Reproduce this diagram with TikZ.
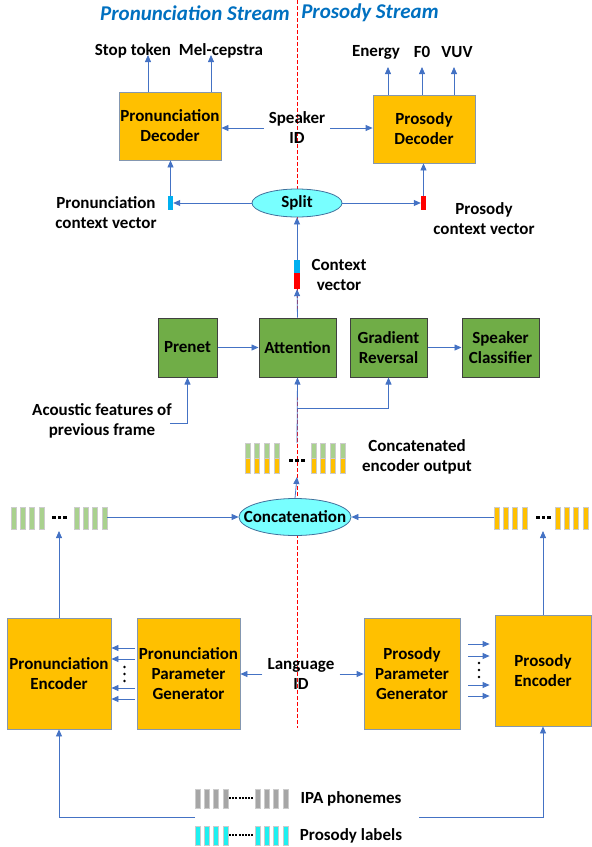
\documentclass[tikz,border=0pt]{standalone}
\usepackage{fontspec}
\setmainfont{Carlito}
\usetikzlibrary{shapes.geometric,arrows.meta}
\definecolor{linkblue}{RGB}{68,114,196}
\definecolor{titleblue}{RGB}{0,112,192}
\definecolor{boxorange}{RGB}{255,192,0}
\definecolor{boxedge}{RGB}{132,151,176}
\definecolor{boxgreen}{RGB}{112,173,71}
\definecolor{ovalcyan}{RGB}{120,255,255}
\definecolor{ovaledge}{RGB}{65,113,156}
\definecolor{vecblue}{RGB}{0,176,240}
\definecolor{bargreen}{RGB}{169,209,142}
\definecolor{bargray}{RGB}{166,166,166}
\definecolor{barcyan}{RGB}{30,240,240}
\begin{document}
\begin{tikzpicture}[x=1pt,y=-1pt,
  every node/.style={font=\fontsize{17}{20}\selectfont\bfseries,align=center,inner sep=0pt},
  obox/.style={draw=boxedge,fill=boxorange,line width=0.8pt},
  gbox/.style={draw=black!75,fill=boxgreen,line width=1pt},
  oval/.style={ellipse,draw=ovaledge,fill=ovalcyan,line width=0.8pt},
  conn/.style={draw=linkblue,line width=0.8pt,-{Triangle[length=7pt,width=6pt]}},
  bar/.style={draw=black!20,line width=0.6pt},
  title/.style={font=\fontsize{21}{24}\selectfont\bfseries\itshape,text=titleblue}]
\useasboundingbox (0,0) rectangle (592,847);

% Stream divider
\draw[red,dash pattern=on 4pt off 2pt,line width=0.7pt] (297,0) -- (297,728);

% Titles
\node[title] (ttl1) at (195,13) {Pronunciation Stream};
\node[title] (ttl2) at (370,13) {Prosody Stream};

% Decoders
\node[obox,minimum width=102pt,minimum height=68pt] (pdec) at (170,126) {Pronunciation\\Decoder};
\node[obox,minimum width=102pt,minimum height=68pt] (sdec) at (424,129) {Prosody\\Decoder};
\node (stop) at (133,51) {Stop token};
\node (mel) at (221,51) {Mel-cepstra};
\node (energy) at (376,52) {Energy};
\node (fzero) at (422,52) {F0};
\node (vuv) at (457,52) {VUV};
\coordinate (stoptip) at (148,55);
\coordinate (meltip) at (211,55);
\coordinate (entip) at (388,67);
\coordinate (fztip) at (422,67);
\coordinate (vuvtip) at (454,67);
\draw[conn] (pdec.north -| stoptip) -- (stoptip);
\draw[conn] (pdec.north -| meltip) -- (meltip);
\draw[conn] (sdec.north -| entip) -- (entip);
\draw[conn] (sdec.north -| fztip) -- (fztip);
\draw[conn] (sdec.north -| vuvtip) -- (vuvtip);

\node[inner sep=5pt] (spkid) at (297,128) {Speaker\\ID};
\draw[conn] (spkid.west) -- (pdec.east |- spkid.west);
\draw[conn] (spkid.east) -- (sdec.west |- spkid.east);

% Split
\node[oval,minimum width=90pt,minimum height=28pt] (split) at (297,203) {\makebox[0pt]{Split}};
\node[fill=vecblue,minimum width=5pt,minimum height=14pt] (pcv) at (170.5,203) {};
\node[fill=red,minimum width=5pt,minimum height=14pt] (scv) at (423.5,203) {};
\node (pcvlbl) at (106,213) {Pronunciation\\context vector};
\node (scvlbl) at (484,219) {Prosody\\context vector};
\draw[conn] (split.west) -- (pcv.east);
\draw[conn] (split.east) -- (scv.west);
\draw[conn] (pcv.north) -- (pdec.south -| pcv.north);
\draw[conn] (scv.north) -- (sdec.south -| scv.north);

% Context vector
\node[fill=vecblue,minimum width=6pt,minimum height=13pt] (cvb) at (297,266.5) {};
\node[fill=red,minimum width=6pt,minimum height=16pt] (cvr) at (297,281) {};
\node (cvlbl) at (339,275) {Context\\vector};
\draw[conn] (cvb.north) -- (split.south);

% Attention row
\node[gbox,minimum width=59pt,minimum height=59pt] (prenet) at (187.5,347.5) {Prenet};
\node[gbox,minimum width=77pt,minimum height=59pt] (attn) at (297.5,347.5) {Attention};
\node[gbox,minimum width=77pt,minimum height=59pt] (grad) at (388.5,347.5) {Gradient\\Reversal};
\node[gbox,minimum width=77pt,minimum height=59pt] (spk) at (500.5,347.5) {Speaker\\Classifier};
\draw[conn] (attn.north) -- (cvr.south);
\draw[conn] (prenet) -- (attn);
\draw[conn] (grad) -- (spk);
\node (aclbl) at (102,421) {Acoustic features of\\previous frame};
\draw[conn] ([xshift=-2pt,yshift=-2pt]aclbl.east) -| (prenet.south);

% Concatenated encoder output
\coordinate (cotop) at (297,443);
\coordinate (cobot) at (297,477);
\coordinate (fork) at (297,408);
\foreach \x in {245,254.7,264.3,274,311,320.7,330.3,340} {
  \draw[bar,fill=bargreen] (\x,443) rectangle ++(5,15);
  \draw[bar,fill=boxorange] (\x,458) rectangle ++(5,15);
}
\foreach \x in {289,295,301} \fill (\x,458.5) rectangle ++(3.5,3.5);
\node (cclbl) at (417,457) {Concatenated\\encoder output};
\draw[conn] (cotop) -- (attn.south);
\draw[conn] (fork) -| (grad.south);

% Concatenation
\node[oval,minimum width=112pt,minimum height=37pt] (concat) at (295,517) {\makebox[0pt]{Concatenation}};
\draw[conn] (concat.north) -- (cobot);

% Encoder outputs
\foreach \x in {11,20.3,29.6,39,74,83.3,92.6,102}
  \draw[bar,fill=bargreen] (\x,507) rectangle ++(5,22);
\foreach \x in {52,57.5,63} \fill (\x,515.5) rectangle ++(3.5,3.5);
\foreach \x in {494,503.3,512.6,522,555,564.3,573.6,583}
  \draw[bar,fill=boxorange] (\x,507) rectangle ++(5,22);
\foreach \x in {536,541.5,547} \fill (\x,515.5) rectangle ++(3.5,3.5);
\coordinate (lend) at (107,517);
\coordinate (rend) at (494,517);
\coordinate (lbot) at (59,531);
\coordinate (rbot) at (543,531);
\draw[conn] (lend) -- (concat.west);
\draw[conn] (rend) -- (concat.east);

% Encoders
\node[obox,minimum width=104pt,minimum height=111pt] (penc) at (59,673.5) {Pronunciation\\Encoder};
\node[obox,minimum width=103pt,minimum height=111pt] (ppg) at (188.5,673.5) {Pronunciation\\Parameter\\Generator};
\node[obox,minimum width=96pt,minimum height=111pt] (spg) at (412,673.5) {Prosody\\Parameter\\Generator};
\node[obox,minimum width=96pt,minimum height=111pt] (senc) at (543,670.5) {Prosody\\Encoder};
\draw[conn] (penc.north) -- (lbot);
\draw[conn] (senc.north) -- (rbot);

\node[inner sep=5pt] (langid) at (301,674) {Language\\ID};
\draw[conn] (langid.west) -- (ppg.east |- langid.west);
\draw[conn] (langid.east) -- (spg.west |- langid.east);

\foreach \y in {648,659,688,699}
  \draw[conn] ([xshift=-2pt]ppg.west |- 0,\y) -- (penc.east |- 0,\y);
\foreach \y in {667,674,681} \fill (124.5,\y) circle (1.3pt);
\foreach \y in {644,656,685,696}
  \draw[conn] ([xshift=8pt]spg.east |- 0,\y) -- ([xshift=-5pt]senc.west |- 0,\y);
\foreach \y in {663,670,677} \fill (479,\y) circle (1.3pt);

% Inputs
\foreach \x in {195,204.3,213.6,223,255,264.3,273.6,283} {
  \draw[bar,fill=bargray] (\x,789) rectangle ++(5,19);
  \draw[bar,fill=barcyan] (\x,826) rectangle ++(5,19);
}
\draw[line width=2pt,dash pattern=on 2pt off 1.2pt] (229,798) -- (254.5,798);
\draw[line width=2pt,dash pattern=on 2pt off 1.2pt] (229,835) -- (254.5,835);
\node (ipa) at (351,799) {IPA phonemes};
\node (prl) at (351,836) {Prosody labels};
\coordinate (inl) at (195,817);
\coordinate (inr) at (419,817);
\draw[conn] (inl) -| (penc.south);
\draw[conn] (inr) -| (senc.south);
\end{tikzpicture}
\end{document}
